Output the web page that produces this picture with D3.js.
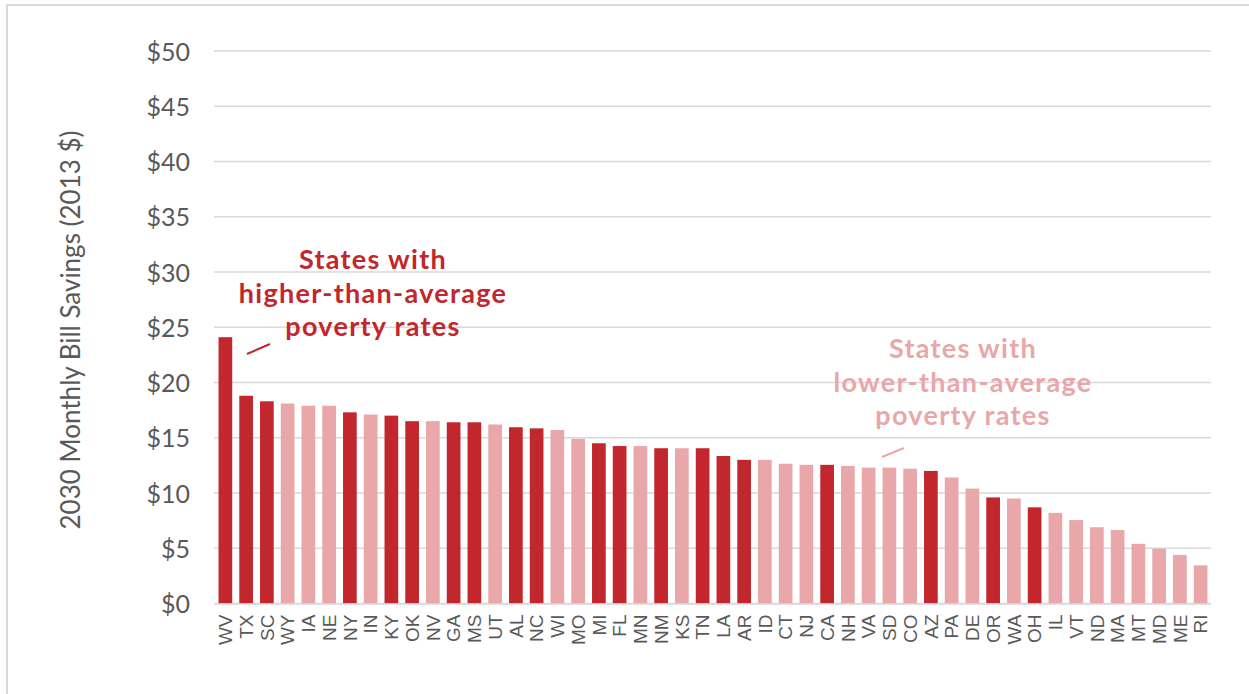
<!DOCTYPE html>
<html>
<head>
<meta charset="utf-8">
<script src="https://cdn.jsdelivr.net/npm/d3@7/dist/d3.min.js"></script>
<style>
  html, body { margin: 0; padding: 0; background: #fff; }
  svg { display: block; }
</style>
</head>
<body>
<svg id="chart" width="1249" height="694"></svg>
<script>
// States ordered by projected 2030 monthly bill savings
const states = ["WV","TX","SC","WY","IA","NE","NY","IN","KY","OK","NV","GA","MS","UT","AL","NC","WI","MO","MI","FL","MN","NM","KS","TN",
                "LA","AR","ID","CT","NJ","CA","NH","VA","SD","CO","AZ","PA","DE","OR","WA","OH","IL","VT","ND","MA","MT","MD","ME","RI"];
const savings = [24.1,18.8,18.3,18.1,17.9,17.9,17.3,17.1,17.0,16.5,16.5,16.4,16.4,16.2,15.95,15.85,15.7,14.9,14.5,14.25,14.25,14.05,14.05,14.05,
                 13.35,13.0,13.0,12.65,12.55,12.55,12.45,12.3,12.3,12.2,12.0,11.4,10.4,9.6,9.5,8.7,8.2,7.55,6.9,6.65,5.4,4.95,4.4,3.45];
// 1 = higher-than-average poverty rate, 0 = lower-than-average
const highPoverty = [1,1,1,0,0,0,1,0,1,1,0,1,1,0,1,1,0,0,1,1,0,1,0,1,
                     1,1,0,0,0,1,0,0,0,0,1,0,0,1,0,1,0,0,0,0,0,0,0,0];
const yTicks = [0,5,10,15,20,25,30,35,40,45,50];
const yTitle = "2030 Monthly Bill Savings (2013 $)";
const noteHigh = ["States with","higher-than-average","poverty rates"];
const noteLow = ["States with","lower-than-average","poverty rates"];

const DARK = "#C1272D", LIGHT = "#E9A7A9", GRID = "#d9d9d9", TEXT = "#595959";
const svg = d3.select("#chart");

// outer frame
svg.append("rect").attr("x", 7).attr("y", 5).attr("width", 1260).attr("height", 720)
  .attr("fill", "none").attr("stroke", "#d9d9d9").attr("stroke-width", 2);

const x = d3.scaleBand().domain(states).range([215, 1211]).paddingInner(0.34).paddingOuter(0.17);
const y = d3.scaleLinear().domain([0, 50]).range([603.5, 51]);

// horizontal gridlines
svg.append("g").selectAll("line").data(yTicks).join("line")
  .attr("x1", 214).attr("x2", 1211)
  .attr("y1", d => y(d)).attr("y2", d => y(d))
  .attr("stroke", GRID).attr("stroke-width", 1.5);

// y axis labels
const yAxis = d3.axisLeft(y).tickValues(yTicks).tickFormat(d => "$" + d).tickSize(0).tickPadding(0);
const yg = svg.append("g").attr("transform", "translate(190,0)").call(yAxis);
yg.select(".domain").remove();
yg.selectAll("text").attr("font-family", "Lato, sans-serif").attr("font-size", 25)
  .attr("fill", TEXT).attr("dy", "0.36em");

// y title
svg.append("text").attr("transform", "translate(80,330) rotate(-90)")
  .attr("text-anchor", "middle").attr("font-family", "Lato, sans-serif")
  .attr("font-size", 26).attr("fill", TEXT).text(yTitle);

// bars
svg.append("g").selectAll("rect").data(states).join("rect")
  .attr("x", d => x(d)).attr("width", x.bandwidth())
  .attr("y", (d, i) => y(savings[i]))
  .attr("height", (d, i) => y(0) - y(savings[i]))
  .attr("fill", (d, i) => highPoverty[i] ? DARK : LIGHT);

// x axis labels (rotated)
const xAxis = d3.axisBottom(x).tickSize(0).tickPadding(0);
const xg = svg.append("g").attr("transform", "translate(0,603.5)").call(xAxis);
xg.select(".domain").attr("stroke", GRID).attr("stroke-width", 1.5).attr("d", "M214,0.5H1211");
xg.selectAll("text")
  .attr("transform", "rotate(-90)")
  .attr("text-anchor", "end")
  .attr("x", -11).attr("y", 0).attr("dy", "0.36em")
  .attr("font-family", "'Liberation Sans', Arial, sans-serif").attr("font-size", 19)
  .attr("fill", TEXT);

// annotations
function note(lines, cx, baseline, color) {
  const t = svg.append("text").attr("text-anchor", "middle")
    .attr("font-family", "Lato, sans-serif").attr("font-weight", "bold")
    .attr("font-size", 27).attr("letter-spacing", 1.3).attr("fill", color);
  lines.forEach((s, i) => t.append("tspan").attr("x", cx).attr("y", baseline + i * 33.5).text(s));
}
note(noteHigh, 373, 269, DARK);
note(noteLow, 963, 358, LIGHT);

// leader lines
svg.append("line").attr("x1", 247).attr("y1", 354).attr("x2", 270).attr("y2", 344)
  .attr("stroke", DARK).attr("stroke-width", 2);
svg.append("line").attr("x1", 882).attr("y1", 457).attr("x2", 904).attr("y2", 448)
  .attr("stroke", LIGHT).attr("stroke-width", 2);
</script>
</body>
</html>
